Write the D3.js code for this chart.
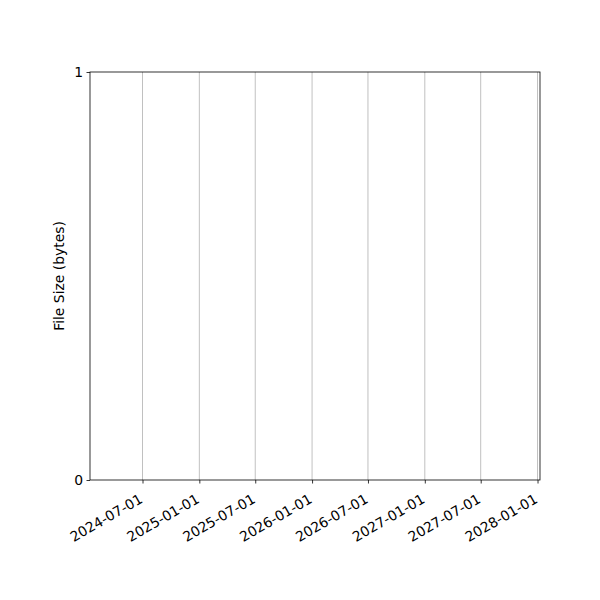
<!DOCTYPE html>
<html>
<head>
<meta charset="utf-8">
<script src="https://cdn.jsdelivr.net/npm/d3@7"></script>
<style>
  body { margin: 0; background: #fff; }
  text { font-family: "DejaVu Sans", sans-serif; }
</style>
</head>
<body>
<div id="chart"></div>
<script>
// chart data (the series is empty, only the axes are drawn)
var dates = [];
var sizes = [];
var xTickLabels = ['2024-07-01', '2025-01-01', '2025-07-01', '2026-01-01',
  '2026-07-01', '2027-01-01', '2027-07-01', '2028-01-01'];
var yTickValues = [0, 1];
var xDomain = ['2024-01-13', '2028-01-09'];

var svgWidth = 600;
var svgHeight = 600;
var margin = { top: 72, right: 60, bottom: 120, left: 90 };
var width = svgWidth - margin.left - margin.right;
var height = svgHeight - margin.top - margin.bottom;

var parse = d3.timeParse('%Y-%m-%d');

var svg = d3.select('#chart').append('svg')
  .attr('width', svgWidth)
  .attr('height', svgHeight);

var chartGroup = svg.append('g')
  .attr('transform', `translate(${margin.left}, ${margin.top})`);

var x = d3.scaleTime()
  .domain(xDomain.map(parse))
  .range([0, width]);

var y = d3.scaleLinear()
  .domain([0, 1])
  .range([height, 0]);

// vertical grid lines
chartGroup.append('g')
  .selectAll('line')
  .data(xTickLabels)
  .enter()
  .append('line')
  .attr('x1', d => x(parse(d)))
  .attr('x2', d => x(parse(d)))
  .attr('y1', 0)
  .attr('y2', height)
  .attr('stroke', '#b0b0b0')
  .attr('stroke-width', 0.8);

// line for the (empty) series
var line = d3.line()
  .x((d, i) => x(parse(d)))
  .y((d, i) => y(sizes[i]));
chartGroup.append('path')
  .datum(dates)
  .attr('fill', 'none')
  .attr('stroke', '#1f77b4')
  .attr('stroke-width', 1.5)
  .attr('d', line);

// x axis
var xAxis = chartGroup.append('g')
  .attr('transform', `translate(0, ${height})`)
  .call(d3.axisBottom(x)
    .tickValues(xTickLabels.map(parse))
    .tickFormat(d3.timeFormat('%Y-%m-%d'))
    .tickSize(3.5)
    .tickPadding(3.5));
xAxis.select('.domain').remove();
xAxis.selectAll('.tick line').attr('stroke', '#000').attr('stroke-width', 0.8);
xAxis.selectAll('.tick text')
  .attr('font-size', '13.9px')
  .attr('fill', '#000')
  .attr('text-anchor', 'end')
  .attr('x', 0)
  .attr('y', 0)
  .attr('dy', '0.73em')
  .attr('transform', 'translate(-4.5, 13) rotate(-30)');

// y axis
var yAxis = chartGroup.append('g')
  .call(d3.axisLeft(y)
    .tickValues(yTickValues)
    .tickFormat(d3.format('d'))
    .tickSize(3.5)
    .tickPadding(3.5));
yAxis.select('.domain').remove();
yAxis.selectAll('.tick line').attr('stroke', '#000').attr('stroke-width', 0.8);
yAxis.selectAll('.tick text')
  .attr('font-size', '13.9px')
  .attr('fill', '#000');

// frame
chartGroup.append('rect')
  .attr('x', 0)
  .attr('y', 0)
  .attr('width', width)
  .attr('height', height)
  .attr('fill', 'none')
  .attr('stroke', '#000')
  .attr('stroke-width', 0.8);

// y axis label
chartGroup.append('text')
  .attr('transform', `translate(${-26}, ${height / 2}) rotate(-90)`)
  .attr('text-anchor', 'middle')
  .attr('font-size', '13.9px')
  .text('File Size (bytes)');
</script>
</body>
</html>
